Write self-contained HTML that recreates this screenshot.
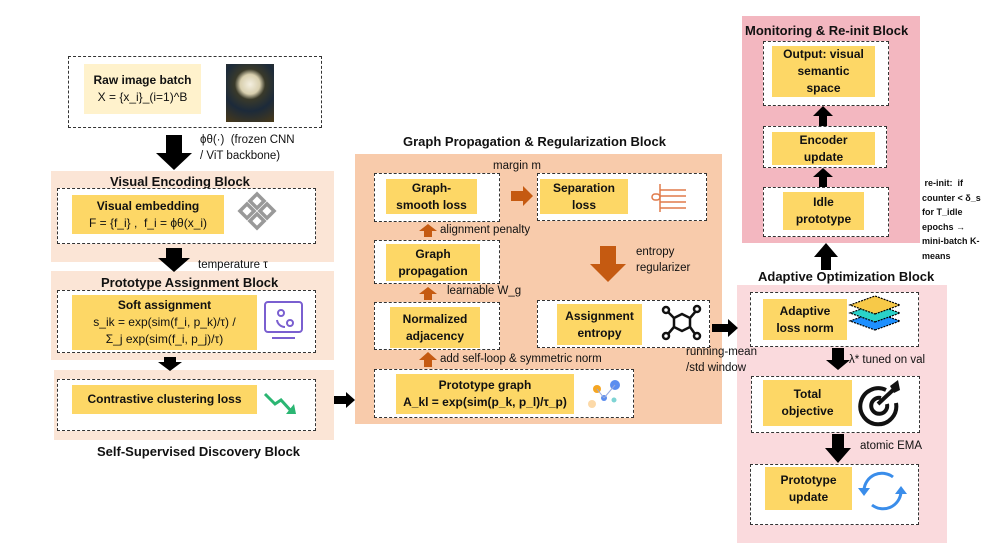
<!DOCTYPE html>
<html><head><meta charset="utf-8"><style>
*{margin:0;padding:0;box-sizing:border-box}
body{width:1006px;height:543px;background:#fff;position:relative;overflow:hidden;font-family:"Liberation Sans","DejaVu Sans",sans-serif;color:#111}
.a{position:absolute}
.bg{position:absolute}
.d{position:absolute;background:#fff;border:1px dashed #333}
.y{position:absolute;background:#fdd766;display:flex;flex-direction:column;align-items:center;justify-content:center;text-align:center;font-size:12px;font-weight:bold;line-height:17px}
.y span{font-weight:normal}
.t{position:absolute;font-weight:bold;font-size:13px;white-space:nowrap}
.l{position:absolute;font-size:11.5px;white-space:nowrap;line-height:16px}
svg{position:absolute;left:0;top:0}
</style></head><body>
<div class="bg" style="left:51px;top:171px;width:283px;height:91px;background:#fbe5d6"></div>
<div class="bg" style="left:51px;top:271px;width:283px;height:89px;background:#fbe5d6"></div>
<div class="bg" style="left:54px;top:370px;width:280px;height:70px;background:#fbe5d6"></div>
<div class="bg" style="left:355px;top:154px;width:367px;height:270px;background:#f8cbab"></div>
<div class="bg" style="left:742px;top:16px;width:178px;height:227px;background:#f3b7c0"></div>
<div class="bg" style="left:737px;top:285px;width:210px;height:258px;background:#fadadd"></div>

<div class="d" style="left:68px;top:56px;width:254px;height:72px"></div>
<div class="y" style="left:84px;top:64px;width:117px;height:50px;background:#fff2cc">Raw image batch<span>X = {x_i}_(i=1)^B</span></div>
<div class="a" style="left:226px;top:64px;width:48px;height:58px;background:radial-gradient(circle at 50% 35%,#f4efe0 0,#d8cfae 22%,#3a3a2a 34%,#1c2a3a 60%,#4a3a18 100%)"></div>
<div class="l" style="left:200px;top:132px">ϕθ(·)&nbsp; (frozen CNN<br>/ ViT backbone)</div>

<div class="t" style="left:110px;top:174px">Visual Encoding Block</div>
<div class="d" style="left:57px;top:188px;width:259px;height:56px"></div>
<div class="y" style="left:72px;top:195px;width:152px;height:39px">Visual embedding<span>F = {f_i} ,&nbsp; f_i = ϕθ(x_i)</span></div>
<div class="l" style="left:198px;top:257px">temperature τ</div>

<div class="t" style="left:101px;top:275px">Prototype Assignment Block</div>
<div class="d" style="left:57px;top:290px;width:259px;height:63px"></div>
<div class="y" style="left:72px;top:295px;width:185px;height:55px">Soft assignment<span>s_ik = exp(sim(f_i, p_k)/τ) /<br>Σ_j exp(sim(f_i, p_j)/τ)</span></div>

<div class="d" style="left:57px;top:379px;width:259px;height:52px"></div>
<div class="y" style="left:72px;top:385px;width:185px;height:29px">Contrastive clustering loss</div>
<div class="t" style="left:97px;top:444px">Self-Supervised Discovery Block</div>

<div class="t" style="left:403px;top:134px">Graph Propagation &amp; Regularization Block</div>
<div class="d" style="left:374px;top:173px;width:126px;height:49px"></div>
<div class="y" style="left:386px;top:179px;width:91px;height:35px">Graph-<br>smooth loss</div>
<div class="l" style="left:493px;top:158px">margin m</div>
<div class="d" style="left:537px;top:173px;width:170px;height:48px"></div>
<div class="y" style="left:540px;top:179px;width:88px;height:35px">Separation<br>loss</div>
<div class="l" style="left:440px;top:222px">alignment penalty</div>
<div class="d" style="left:374px;top:240px;width:126px;height:44px"></div>
<div class="y" style="left:386px;top:244px;width:94px;height:37px">Graph<br>propagation</div>
<div class="l" style="left:447px;top:283px">learnable W_g</div>
<div class="l" style="left:636px;top:244px">entropy<br>regularizer</div>
<div class="d" style="left:374px;top:302px;width:126px;height:48px"></div>
<div class="y" style="left:390px;top:307px;width:90px;height:41px">Normalized<br>adjacency</div>
<div class="d" style="left:537px;top:300px;width:173px;height:48px"></div>
<div class="y" style="left:557px;top:304px;width:85px;height:41px">Assignment<br>entropy</div>
<div class="l" style="left:440px;top:351px">add self-loop &amp; symmetric norm</div>
<div class="d" style="left:374px;top:369px;width:260px;height:49px"></div>
<div class="y" style="left:396px;top:374px;width:178px;height:40px">Prototype graph<br>A_kl = exp(sim(p_k, p_l)/τ_p)</div>
<div class="l" style="left:686px;top:344px">running-mean<br>/std window</div>

<div class="t" style="left:745px;top:23px">Monitoring &amp; Re-init Block</div>
<div class="d" style="left:763px;top:41px;width:126px;height:65px"></div>
<div class="y" style="left:772px;top:46px;width:103px;height:51px">Output: visual<br>semantic<br>space</div>
<div class="d" style="left:763px;top:126px;width:124px;height:42px"></div>
<div class="y" style="left:772px;top:132px;width:103px;height:33px">Encoder<br>update</div>
<div class="d" style="left:763px;top:187px;width:126px;height:50px"></div>
<div class="y" style="left:783px;top:192px;width:81px;height:38px">Idle<br>prototype</div>
<div class="a" style="left:922px;top:176px;font-size:9px;font-weight:bold;line-height:14.5px">&nbsp;re-init:&nbsp; if<br>counter &lt; δ_s<br>for T_idle<br>epochs →<br>mini-batch K-<br>means</div>
<div class="t" style="left:758px;top:269px">Adaptive Optimization Block</div>
<div class="d" style="left:750px;top:292px;width:169px;height:55px"></div>
<div class="y" style="left:763px;top:299px;width:84px;height:41px">Adaptive<br>loss norm</div>
<div class="l" style="left:849px;top:352px">λ* tuned on val</div>
<div class="d" style="left:751px;top:376px;width:169px;height:57px"></div>
<div class="y" style="left:763px;top:380px;width:89px;height:46px">Total<br>objective</div>
<div class="l" style="left:860px;top:438px">atomic EMA</div>
<div class="d" style="left:750px;top:464px;width:169px;height:61px"></div>
<div class="y" style="left:765px;top:467px;width:87px;height:43px">Prototype<br>update</div>

<svg width="1006" height="543">
<g fill="#000">
<polygon points="166,135 182,135 182,153 192,153 174,170 156,153 166,153"/>
<polygon points="166,248 182,248 182,258 190,258 174,272 158,258 166,258"/>
<polygon points="164,357 176,357 176,362 182,362 170,371 158,362 164,362"/>
<polygon points="334,396 346,396 346,392 355,400 346,408 346,404 334,404"/>
<polygon points="712,324 728,324 728,319 738,328 728,337 728,332 712,332"/>
<polygon points="819,126 827,126 827,116 833,116 823,106 813,116 819,116"/>
<polygon points="819,187 827,187 827,177 833,177 823,168 813,177 819,177"/>
<polygon points="821,270 831,270 831,257 838,257 826,243 814,257 821,257"/>
<polygon points="832,348 844,348 844,360 850,360 838,370 826,360 832,360"/>
<polygon points="832,434 844,434 844,448 851,448 838,463 825,448 832,448"/>
</g>
<g fill="#c55a11">
<polygon points="511,191 523,191 523,186 533,196 523,206 523,201 511,201"/>
<polygon points="424,237 432,237 432,231 437,231 428,224 419,231 424,231"/>
<polygon points="424,300 432,300 432,294 437,294 428,287 419,294 424,294"/>
<polygon points="424,367 432,367 432,360 437,360 428,352 419,360 424,360"/>
<polygon points="600,246 616,246 616,264 626,264 608,282 590,264 600,264"/>
</g>
<g fill="none" stroke="#999" stroke-width="3.5">
<rect x="252" y="196" width="10" height="10" transform="rotate(45 257 201)"/>
<rect x="242" y="206" width="10" height="10" transform="rotate(45 247 211)"/>
<rect x="262" y="206" width="10" height="10" transform="rotate(45 267 211)"/>
<rect x="252" y="216" width="10" height="10" transform="rotate(45 257 221)"/>
</g>
<g fill="none" stroke="#7a5fd0" stroke-width="2">
<rect x="265" y="302" width="37" height="30" rx="3"/>
<line x1="272" y1="338" x2="295" y2="338"/>
<circle cx="281" cy="313" r="3"/><circle cx="290" cy="323" r="3"/>
<path d="M277 320 a8 8 0 0 0 8 7"/>
</g>
<polyline points="265,394 275,404 281,400 292,412" fill="none" stroke="#2bb673" stroke-width="3"/>
<polygon points="286,414 296,414 294,404" fill="#2bb673"/>
<g stroke="#e07a4a" stroke-width="1.5" fill="none">
<line x1="660" y1="184" x2="660" y2="212"/><line x1="660" y1="190" x2="686" y2="190"/><line x1="660" y1="196" x2="686" y2="196"/><line x1="660" y1="202" x2="686" y2="202"/><line x1="660" y1="208" x2="686" y2="208"/><rect x="652" y="194" width="8" height="6" rx="3"/>
</g>
<g stroke="#111" stroke-width="2.5" fill="none">
<polygon points="674,318 682,314 690,318 690,327 682,331 674,327"/>
<line x1="674" y1="318" x2="668" y2="312"/><line x1="690" y1="318" x2="696" y2="311"/><line x1="674" y1="327" x2="668" y2="334"/><line x1="690" y1="327" x2="695" y2="334"/>
<circle cx="666" cy="310" r="3"/><circle cx="697" cy="309" r="3"/><circle cx="666" cy="336" r="3"/><circle cx="697" cy="336" r="3"/>
</g>
<g>
<circle cx="615" cy="385" r="5" fill="#5b8def"/><circle cx="597" cy="389" r="4" fill="#f5a623"/><circle cx="604" cy="398" r="3" fill="#5b8def"/><circle cx="592" cy="404" r="4" fill="#fcd9a8"/><circle cx="614" cy="400" r="2.5" fill="#7fd4d4"/>
<line x1="597" y1="389" x2="604" y2="398" stroke="#9ad" /><line x1="604" y1="398" x2="615" y2="385" stroke="#9ad"/>
</g>
<g stroke="#000" stroke-width="1.2" stroke-dasharray="2 1">
<polygon points="875,330 900,321 875,312 850,321" fill="#1e90ff"/>
<polygon points="875,322 900,313 875,304 850,313" fill="#2ad3c9"/>
<polygon points="875,314 900,305 875,296 850,305" fill="#f7c948"/>
</g>
<g fill="none" stroke="#111" stroke-width="4">
<path d="M886 390 a18 18 0 1 0 10 13"/><path d="M881 398 a8 8 0 1 0 6 6"/>
<line x1="878" y1="404" x2="893" y2="390"/>
</g>
<polygon points="890,386 898,380 900,390 894,393" fill="#111"/>
<g fill="none" stroke="#3a8dea" stroke-width="3">
<path d="M864 490 a18 18 0 0 1 29 -13"/><path d="M901 492 a18 18 0 0 1 -29 13"/>
</g>
<polygon points="858,488 870,488 864,496" fill="#3a8dea"/><polygon points="895,494 907,494 901,486" fill="#3a8dea"/>
</svg>
</body></html>
